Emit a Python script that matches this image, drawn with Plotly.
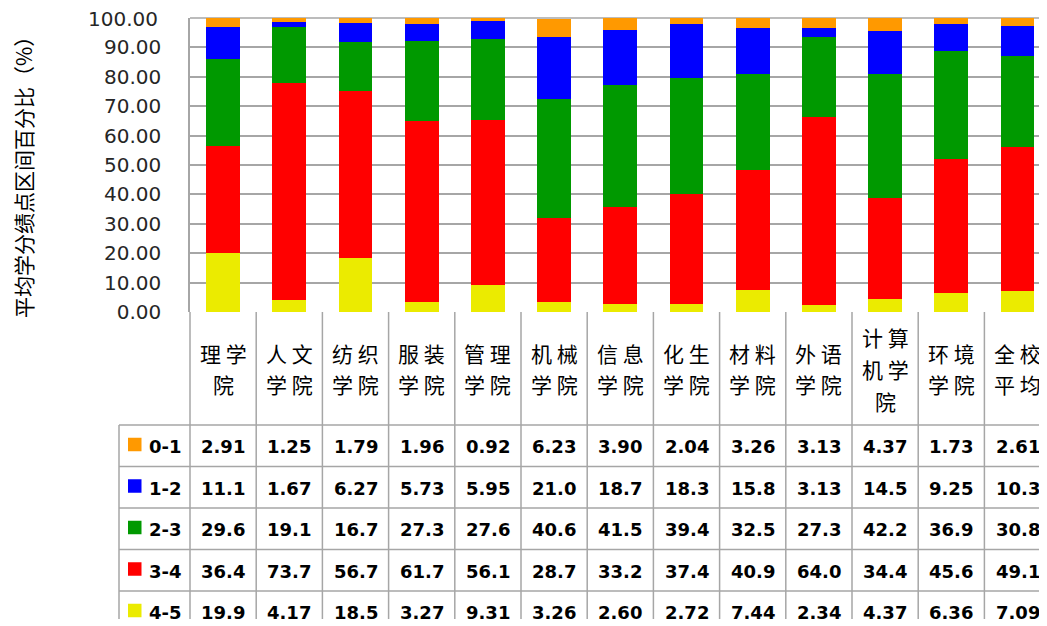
import plotly.graph_objects as go

# ---------------- data ----------------
categories = ["理学院", "人文学院", "纺织学院", "服装学院", "管理学院", "机械学院",
              "信息学院", "化生学院", "材料学院", "外语学院", "计算机学院", "环境学院", "全校平均"]
series_names = ["0-1", "1-2", "2-3", "3-4", "4-5"]
v_0_1 = [2.91, 1.25, 1.79, 1.96, 0.92, 6.23, 3.90, 2.04, 3.26, 3.13, 4.37, 1.73, 2.61]
v_1_2 = [11.1, 1.67, 6.27, 5.73, 5.95, 21.0, 18.7, 18.3, 15.8, 3.13, 14.5, 9.25, 10.3]
v_2_3 = [29.6, 19.1, 16.7, 27.3, 27.6, 40.6, 41.5, 39.4, 32.5, 27.3, 42.2, 36.9, 30.8]
v_3_4 = [36.4, 73.7, 56.7, 61.7, 56.1, 28.7, 33.2, 37.4, 40.9, 64.0, 34.4, 45.6, 49.1]
v_4_5 = [19.9, 4.17, 18.5, 3.27, 9.31, 3.26, 2.60, 2.72, 7.44, 2.34, 4.37, 6.36, 7.09]
series_values = [v_0_1, v_1_2, v_2_3, v_3_4, v_4_5]
colors = ["#FF9900", "#0000FF", "#009900", "#FF0000", "#EBEB00"]
y_ticks = [0, 10, 20, 30, 40, 50, 60, 70, 80, 90, 100]
y_title = "平均学分绩点区间百分比（%）"

# ---------------- layout constants ----------------
OFF = 8                      # page body margin in the browser
W, H = 1039, 618
ML, MT, MR = 182, 10, 0
PLOT_BOTTOM = 304            # figure pixels
MB = H - PLOT_BOTTOM
PLOT_H = PLOT_BOTTOM - MT
COL_W = 66.2
XMIN = -0.5
XMAX = XMIN + (W - ML) / COL_W
# positions below are given in page pixels (reference picture)
HEADER_BOTTOM = 425
ROW_H = 41.5
TABLE_LEFT = 119
GRID = "#a6a6a6"
CJK = "Noto Sans CJK SC"
NUM = "DejaVu Sans"


def px_x(px):
    return (px - OFF - ML) / (W - ML)


def px_y(py):
    return (PLOT_BOTTOM - (py - OFF)) / PLOT_H


def fmt(v):
    return f"{v:.2f}" if v < 10 else f"{v:.1f}"


fig = go.Figure()

# stacked bars, bottom series first
for name, vals, col in reversed(list(zip(series_names, series_values, colors))):
    fig.add_trace(go.Bar(x=categories, y=vals, name=name,
                         marker=dict(color=col, line=dict(width=0)), width=0.51))

shapes = []
annotations = []

plot_bottom_page = PLOT_BOTTOM + OFF

# top gridline at 100 (drawn unclipped so it is fully visible at the plot edge)
shapes.append(dict(type="line", xref="paper", yref="paper", x0=0, x1=1, y0=1, y1=1,
                   line=dict(color=GRID, width=1.5), layer="below"))

# table vertical lines (category boundaries)
for k in range(len(categories) + 1):
    xb = (k - 0.5 - XMIN) / (XMAX - XMIN)
    shapes.append(dict(type="line", xref="paper", yref="paper", x0=xb, x1=xb,
                       y0=0, y1=px_y(660), line=dict(color=GRID, width=1.5)))
# left border of legend column
shapes.append(dict(type="line", xref="paper", yref="paper", x0=px_x(TABLE_LEFT), x1=px_x(TABLE_LEFT),
                   y0=px_y(HEADER_BOTTOM), y1=px_y(660), line=dict(color=GRID, width=1.5)))
# horizontal lines
for i in range(len(series_names) + 1):
    yy = px_y(HEADER_BOTTOM + i * ROW_H)
    shapes.append(dict(type="line", xref="paper", yref="paper", x0=px_x(TABLE_LEFT), x1=1.02,
                       y0=yy, y1=yy, line=dict(color=GRID, width=1.5)))

# header category labels (2 chars per line)
for cat in categories:
    lines = [cat[i:i + 2] for i in range(0, len(cat), 2)]
    n = len(lines)
    center = (plot_bottom_page + HEADER_BOTTOM) / 2
    for j, ln in enumerate(lines):
        yc = center + (j - (n - 1) / 2) * 32
        annotations.append(dict(x=cat, y=px_y(yc), xref="x", yref="paper", text=" ".join(ln),
                                showarrow=False, xanchor="center", yanchor="middle",
                                font=dict(family=CJK, size=21, color="#000")))

# table rows
for r, (name, vals, col) in enumerate(zip(series_names, series_values, colors)):
    yc = HEADER_BOTTOM + r * ROW_H + ROW_H / 2 + 1
    shapes.append(dict(type="rect", xref="paper", yref="paper", x0=px_x(128), x1=px_x(141.5),
                       y0=px_y(yc - 9), y1=px_y(yc + 4.5), fillcolor=col, line=dict(width=0)))
    annotations.append(dict(x=px_x(147), y=px_y(yc), xref="paper", yref="paper", text=f"<b>{name}</b>",
                            showarrow=False, xanchor="left", yanchor="middle",
                            font=dict(family=NUM, size=18, color="#000")))
    for cat, v in zip(categories, vals):
        annotations.append(dict(x=cat, y=px_y(yc), xref="x", yref="paper", text=f"<b>{fmt(v)}</b>",
                                showarrow=False, xanchor="center", yanchor="middle",
                                font=dict(family=NUM, size=18, color="#000")))

# bottom crop band (reference image ends its content near y=618)
shapes.append(dict(type="rect", xref="paper", yref="paper", x0=-0.3, x1=1.05,
                   y0=px_y(619), y1=px_y(680), fillcolor="white", line=dict(width=0), layer="above"))

# 100.00 tick label placed explicitly (the top label would otherwise be hidden at the div edge)
annotations.append(dict(x=px_x(160), y=y_ticks[-1], xref="paper", yref="y",
                        text=f"{y_ticks[-1]:.2f}", showarrow=False, xanchor="right", yanchor="middle",
                        yshift=-0.5,
                        font=dict(family=NUM, size=20, color="#262626")))

# y-axis title
annotations.append(dict(x=px_x(23), y=px_y(172), xref="paper", yref="paper", text=y_title,
                        textangle=-90, showarrow=False, xanchor="center", yanchor="middle",
                        font=dict(family=CJK, size=21, color="#000")))

fig.update_layout(
    width=W, height=H,
    margin=dict(l=ML, r=MR, t=MT, b=MB, pad=0),
    barmode="stack",
    showlegend=False,
    plot_bgcolor="rgba(0,0,0,0)",
    paper_bgcolor="white",
    shapes=shapes,
    annotations=annotations,
    xaxis=dict(range=[XMIN, XMAX], showticklabels=False, ticks="", showgrid=False,
               showline=False, zeroline=False, automargin=False, fixedrange=True),
    yaxis=dict(range=[0, 100], tickvals=y_ticks[:-1], tickformat=".2f", ticks="",
               ticklabelstandoff=23,
               tickfont=dict(family=NUM, size=20, color="#262626"),
               showgrid=True, gridcolor=GRID, gridwidth=1.5,
               showline=True, linecolor=GRID, linewidth=1.5,
               zeroline=False, automargin=False, fixedrange=True),
)

fig.write_html("out.html")
